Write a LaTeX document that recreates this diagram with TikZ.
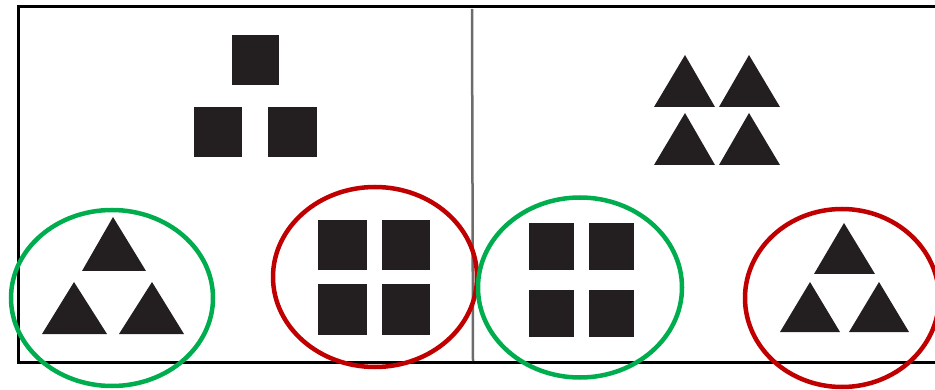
\documentclass[tikz,border=0pt]{standalone}
\definecolor{ink}{HTML}{231F20}
\definecolor{ogreen}{HTML}{00AD4E}
\definecolor{ored}{HTML}{C00000}
\tikzset{
  shp/.style={fill=ink, draw=none},
  ring/.style={line width=4.5pt},
  frame/.style={line width=3pt, black},
}
\begin{document}
\begin{tikzpicture}[x=1pt,y=-1pt]
\useasboundingbox (0,0) rectangle (935,390);
\clip (0,0) rectangle (935,390);
% frame
\draw[frame] (940,7) -- (18,7) -- (18,362) -- (940,362);
\draw[line width=2.5pt, gray!85!black] (472,9) -- (473,361);
% left panel top squares
\fill[shp] (232,35) rectangle (279,85);
\fill[shp] (194,107) rectangle (242,157);
\fill[shp] (268,107) rectangle (317,157);
% left green: triangles
\fill[shp] (113,217) -- (146,271) -- (82,271) -- cycle;
\fill[shp] (74,282) -- (107,334) -- (42,334) -- cycle;
\fill[shp] (152,282) -- (184,334) -- (119,334) -- cycle;
\draw[ring, ogreen] (112,298) ellipse (101 and 88);
% left red: squares
\fill[shp] (318,220) rectangle (367,270);
\fill[shp] (382,220) rectangle (430,270);
\fill[shp] (318,284) rectangle (367,335);
\fill[shp] (382,284) rectangle (430,335);
\draw[ring, ored] (375,277) ellipse (102 and 90);
% right panel top triangles
\fill[shp] (685,55) -- (715,107) -- (654,107) -- cycle;
\fill[shp] (749,55) -- (780,107) -- (719,107) -- cycle;
\fill[shp] (685,113) -- (715,165) -- (654,165) -- cycle;
\fill[shp] (749,113) -- (780,165) -- (719,165) -- cycle;
% right green: squares
\fill[shp] (529,223) rectangle (574,270);
\fill[shp] (589,223) rectangle (634,270);
\fill[shp] (529,290) rectangle (574,337);
\fill[shp] (589,290) rectangle (634,337);
\draw[ring, ogreen] (580,287.5) ellipse (102 and 90);
% right red: triangles
\fill[shp] (844,223) -- (875,274) -- (814,274) -- cycle;
\fill[shp] (810,282) -- (840,332) -- (780,332) -- cycle;
\fill[shp] (879,282) -- (909,332) -- (849,332) -- cycle;
\draw[ring, ored] (842,298) ellipse (97 and 89);
\end{tikzpicture}
\end{document}
